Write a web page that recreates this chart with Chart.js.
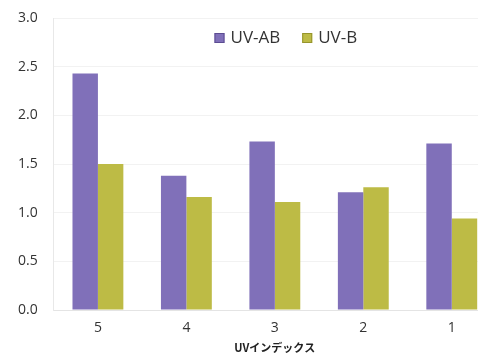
<!DOCTYPE html>
<html>
<head>
<meta charset="utf-8">
<script src="https://cdn.jsdelivr.net/npm/chart.js@4"></script>
<style>
  html, body { margin: 0; padding: 0; background: #fff; overflow: hidden; }
  #wrap { width: 500px; height: 355px; }
</style>
</head>
<body>
<div id="wrap"><canvas id="c" width="500" height="355"></canvas></div>
<script>
// UV index categories and measured values per index
const categories = ['5', '4', '3', '2', '1'];
const uvAB = [2.43, 1.38, 1.73, 1.21, 1.71];
const uvB = [1.50, 1.16, 1.11, 1.26, 0.94];
const yTicks = [0, 0.5, 1.0, 1.5, 2.0, 2.5, 3.0];
const xTitle = 'UVインデックス';
const seriesColors = ['#8070b9', '#bdbb45'];
const seriesEdges = ['#5c4c91', '#96942c'];

function barFill(ctx, base, edge) {
  const chart = ctx.chart;
  const el = ctx.element;
  if (!chart.chartArea || !el || el.width === undefined) return base;
  const x0 = el.x - el.width / 2, x1 = el.x + el.width / 2;
  const g = chart.ctx.createLinearGradient(x0, 0, x1, 0);
  g.addColorStop(0, edge);
  g.addColorStop(0.12, base);
  g.addColorStop(0.88, base);
  g.addColorStop(1, edge);
  return g;
}

// Legend drawn inside the plot area, near its top edge
const innerLegend = {
  id: 'innerLegend',
  afterDatasetsDraw(chart) {
    const { ctx, chartArea } = chart;
    const box = 10, gap = 6, itemGap = 22;
    ctx.save();
    ctx.font = '17px "Open Sans"';
    ctx.textBaseline = 'middle';
    const items = chart.data.datasets.map((d, i) => ({ text: d.label, w: ctx.measureText(d.label).width, i }));
    const total = items.reduce((s, it) => s + box + gap + it.w, 0) + itemGap * (items.length - 1);
    let x = (chartArea.left + chartArea.right) / 2 + 11 - total / 2;
    const y = chartArea.top + 20;
    items.forEach(it => {
      ctx.fillStyle = seriesColors[it.i];
      ctx.fillRect(x, y - box / 2, box, box);
      ctx.strokeStyle = seriesEdges[it.i];
      ctx.lineWidth = 1;
      ctx.strokeRect(x + 0.5, y - box / 2 + 0.5, box - 1, box - 1);
      x += box + gap;
      ctx.fillStyle = '#333';
      ctx.fillText(it.text, x, y);
      x += it.w + itemGap;
    });
    ctx.restore();
  }
};

new Chart(document.getElementById('c'), {
  type: 'bar',
  data: {
    labels: categories,
    datasets: [
      {
        label: 'UV-AB',
        data: uvAB,
        backgroundColor: (ctx) => barFill(ctx, seriesColors[0], seriesEdges[0]),
        borderWidth: 0,
        categoryPercentage: 0.575,
        barPercentage: 1.0
      },
      {
        label: 'UV-B',
        data: uvB,
        backgroundColor: (ctx) => barFill(ctx, seriesColors[1], seriesEdges[1]),
        borderWidth: 0,
        categoryPercentage: 0.575,
        barPercentage: 1.0
      }
    ]
  },
  plugins: [innerLegend],
  options: {
    responsive: false,
    animation: false,
    layout: { padding: { top: 18, left: 2, right: 4, bottom: 0 } },
    plugins: {
      tooltip: { enabled: false },
      legend: { display: false }
    },
    scales: {
      x: {
        grid: { display: false },
        border: { color: '#e4e4e4' },
        ticks: { color: '#333', font: { family: 'Open Sans', size: 14 }, padding: 2 },
        title: {
          display: true,
          text: xTitle,
          color: '#222',
          font: { family: 'Noto Sans CJK JP', size: 11, weight: 'bold' },
          padding: { top: 2, bottom: 1 }
        }
      },
      y: {
        min: 0,
        max: 3,
        afterBuildTicks: (axis) => { axis.ticks = yTicks.map(v => ({ value: v })); },
        afterFit: (axis) => { axis.paddingTop = 0; },
        grid: { color: 'rgba(0,0,0,0.05)', drawTicks: false },
        border: { color: '#e8e8e8' },
        ticks: {
          color: '#333',
          font: { family: 'Open Sans', size: 14 },
          padding: 16,
          callback: (v) => Number(v).toFixed(1)
        }
      }
    }
  }
});
</script>
</body>
</html>
